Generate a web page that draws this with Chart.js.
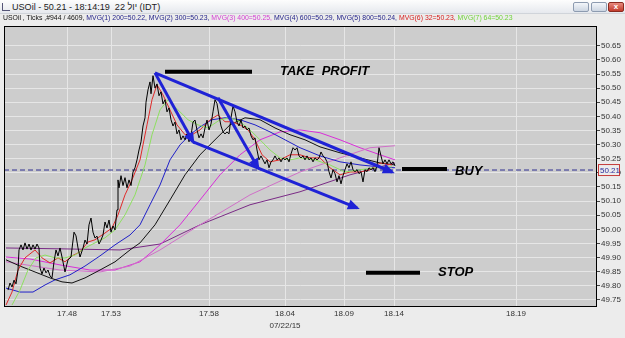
<!DOCTYPE html>
<html><head><meta charset="utf-8">
<script src="https://cdn.jsdelivr.net/npm/chart.js@4.4.0/dist/chart.umd.min.js"></script>
<style>
body{margin:0;width:625px;height:338px;overflow:hidden;background:#ececec;position:relative;font-family:'Liberation Sans',Arial,sans-serif}
#c{position:absolute;left:0;top:0}
#title{position:absolute;left:0;top:0;width:625px;height:13px;background:linear-gradient(#fdfdfd,#e6e9ee);border-bottom:1px solid #d0d4da}
#ttxt{position:absolute;left:12px;top:0;font-size:9.5px;line-height:13px;color:#1c1c1c;white-space:nowrap;transform-origin:0 50%}
#icon{position:absolute;left:2px;top:3px;width:7px;height:7px;border-left:1px solid #557;border-bottom:1px solid #557}
.btn{position:absolute;top:2px;height:10px;border:1px solid #8d9bb0;border-radius:2px;background:linear-gradient(#f3f6fa,#cdd6e2);box-sizing:border-box}
#bclose{background:linear-gradient(#e88a7e,#c33b2c);border-color:#8a2a20;color:#fff;font-size:8px;line-height:8px;text-align:center;font-weight:bold}
#info{position:absolute;left:3px;top:13px;font-size:6.6px;line-height:10px;white-space:nowrap;color:#111;transform-origin:0 50%}
.nv{color:#23238a}.mg{color:#d23cd2}.rd{color:#d62020}.gr{color:#6fd23a}
</style></head>
<body>
<canvas id="c" width="625" height="338"></canvas>
<div id="title"><div id="icon"></div><div id="ttxt">USOil - 50.21 - 18:14:19 &nbsp;22 יול (IDT)</div>
<div class="btn" style="left:573px;width:16px"></div><div class="btn" style="left:591px;width:16px"></div><div class="btn" id="bclose" style="left:608px;width:16px">x</div></div>
<div id="info">USOil , Ticks ,#944 / 4609, <span class="nv">MVG(1) 200=50.22, MVG(2) 300=50.23,</span> <span class="mg">MVG(3) 400=50.25,</span> <span class="nv">MVG(4) 600=50.29, MVG(5) 800=50.24,</span> <span class="rd">MVG(6) 32=50.23,</span> <span class="gr">MVG(7) 64=50.23</span></div>
<script>
// ---- DATA ----
const xTickPositions = [63, 107, 205, 281, 340, 390, 512];
const xTickLabels = ['17.48', '17.53', '17.58', '18.04', '18.09', '18.14', '18.19'];
const dateLabel = '07/22/15';
const dateUnder = '18.04';
const yTickValues = [49.75,49.80,49.85,49.90,49.95,50.00,50.05,50.10,50.15,50.20,50.25,50.30,50.35,50.40,50.45,50.50,50.55,50.60,50.65];
const lastPrice = 50.21;

const price = [[4,49.785],[6,49.81],[8,49.796],[10,49.82],[12,49.807],[14,49.856],[15,49.927],[17,49.945],[19,49.927],[21,49.952],[23,49.93],[25,49.948],[27,49.927],[29,49.945],[31,49.93],[33,49.948],[35,49.934],[36,49.863],[38,49.842],[40,49.863],[42,49.846],[44,49.856],[46,49.835],[48,49.828],[50,49.885],[52,49.927],[54,49.906],[56,49.934],[58,49.902],[61,49.849],[64,49.892],[67,49.902],[70,49.99],[72,49.977],[74,49.934],[76,49.902],[79,49.934],[81,49.962],[83,49.948],[85,50.016],[87,50.04],[89,49.99],[91,49.969],[93,49.976],[95,49.948],[97,49.962],[99,49.98],[101,50.026],[103,50.005],[105,50.033],[107,49.99],[109,50.012],[111,49.998],[113,50.069],[114,50.175],[115,50.147],[117,50.19],[119,50.155],[121,50.183],[123,50.147],[125,50.175],[127,50.155],[129,50.203],[131,50.218],[133,50.246],[135,50.281],[137,50.31],[139,50.366],[141,50.395],[142,50.45],[144,50.494],[146,50.522],[147,50.48],[149,50.544],[151,50.5],[153,50.515],[155,50.473],[157,50.487],[159,50.444],[161,50.459],[163,50.416],[165,50.43],[167,50.388],[169,50.366],[171,50.38],[173,50.338],[175,50.352],[177,50.317],[179,50.331],[181,50.317],[183,50.338],[185,50.31],[187,50.331],[189,50.38],[191,50.387],[193,50.352],[195,50.324],[197,50.338],[199,50.324],[201,50.359],[203,50.387],[205,50.352],[207,50.373],[209,50.416],[211,50.459],[213,50.445],[215,50.402],[217,50.366],[219,50.345],[221,50.338],[223,50.345],[225,50.338],[227,50.395],[229,50.437],[231,50.416],[233,50.38],[235,50.366],[237,50.387],[239,50.359],[241,50.366],[243,50.352],[245,50.359],[247,50.331],[249,50.317],[251,50.324],[253,50.281],[255,50.246],[257,50.26],[259,50.246],[261,50.232],[263,50.246],[265,50.218],[267,50.239],[269,50.246],[271,50.26],[273,50.246],[275,50.253],[277,50.239],[279,50.253],[281,50.246],[283,50.253],[285,50.239],[287,50.267],[289,50.289],[291,50.281],[293,50.289],[295,50.26],[297,50.253],[299,50.26],[301,50.246],[303,50.26],[305,50.246],[307,50.253],[309,50.239],[311,50.253],[313,50.246],[315,50.253],[317,50.274],[319,50.26],[321,50.253],[323,50.239],[325,50.204],[327,50.182],[329,50.211],[331,50.197],[333,50.168],[335,50.19],[337,50.161],[339,50.19],[341,50.211],[343,50.232],[345,50.218],[347,50.239],[349,50.211],[351,50.204],[353,50.211],[355,50.197],[357,50.204],[359,50.168],[361,50.211],[363,50.204],[365,50.218],[367,50.211],[369,50.218],[371,50.204],[373,50.225],[375,50.289],[377,50.26],[379,50.232],[381,50.246],[383,50.232],[385,50.246],[387,50.232],[389,50.239],[391,50.225]];

const ma32 = [[2,49.732],[8,49.778],[14,49.856],[21,49.899],[31,49.927],[38,49.899],[46,49.881],[54,49.899],[61,49.885],[68,49.906],[76,49.92],[84,49.955],[91,49.963],[101,49.987],[108,50.005],[114,50.051],[121,50.122],[128,50.175],[136,50.246],[143,50.37],[148,50.459],[153,50.512],[159,50.476],[166,50.423],[173,50.37],[181,50.335],[188,50.335],[196,50.352],[206,50.388],[214,50.405],[221,50.381],[228,50.381],[236,50.37],[244,50.352],[251,50.317],[258,50.264],[266,50.239],[276,50.246],[286,50.264],[296,50.264],[306,50.253],[316,50.253],[326,50.218],[336,50.193],[346,50.203],[356,50.203],[366,50.211],[376,50.235],[388,50.228]];
const ma64 = [[8,49.732],[16,49.785],[24,49.856],[32,49.899],[41,49.909],[51,49.899],[61,49.899],[71,49.909],[81,49.934],[91,49.952],[101,49.97],[111,49.998],[121,50.051],[131,50.122],[141,50.228],[148,50.335],[156,50.423],[164,50.459],[174,50.423],[184,50.388],[194,50.37],[204,50.359],[216,50.388],[226,50.395],[236,50.381],[246,50.352],[256,50.317],[266,50.281],[276,50.253],[286,50.246],[296,50.253],[311,50.246],[326,50.228],[341,50.203],[356,50.211],[371,50.218],[388,50.221]];
const ma200 = [[2,49.792],[16,49.778],[29,49.778],[41,49.803],[51,49.821],[66,49.839],[81,49.87],[96,49.906],[111,49.945],[126,49.98],[136,50.016],[146,50.087],[156,50.157],[166,50.246],[176,50.299],[186,50.335],[196,50.363],[208,50.388],[221,50.395],[236,50.388],[251,50.37],[266,50.345],[281,50.317],[296,50.289],[316,50.26],[336,50.239],[356,50.228],[376,50.221],[391,50.218]];
const ma300 = [[2,49.892],[16,49.87],[31,49.849],[46,49.828],[58,49.814],[68,49.81],[81,49.828],[96,49.856],[111,49.885],[126,49.927],[136,49.952],[151,50.016],[166,50.104],[181,50.193],[196,50.264],[211,50.317],[226,50.37],[241,50.395],[256,50.388],[271,50.359],[286,50.335],[301,50.317],[316,50.292],[336,50.271],[356,50.253],[376,50.235],[391,50.228]];
const ma400 = [[2,49.902],[26,49.895],[56,49.874],[86,49.856],[111,49.856],[136,49.885],[156,49.945],[176,50.016],[196,50.104],[216,50.193],[236,50.264],[256,50.317],[276,50.345],[296,50.352],[316,50.342],[336,50.317],[356,50.289],[376,50.264],[391,50.246]];
const ma600 = [[2,49.885],[56,49.856],[96,49.849],[126,49.87],[156,49.927],[196,50.016],[246,50.122],[296,50.203],[336,50.253],[366,50.289],[391,50.296]];
const ma800 = [[2,49.934],[56,49.931],[116,49.927],[156,49.948],[196,50.016],[246,50.087],[296,50.133],[346,50.193],[391,50.235]];

const arrowPeakToSupport = [[151,50.554],[189,50.310]];
const arrowLowerChannel = [[189,50.310],[353,50.076]];
const arrowSecondDrop = [[214,50.466],[254,50.218]];
const arrowUpperChannel = [[151,50.554],[388,50.203]];
const takeProfitLine = [[161,50.558],[248,50.558]];
const buyLine = [[398,50.214],[443,50.214]];
const stopLine = [[362,49.846],[416,49.846]];
const noteTexts = ['TAKE  PROFIT', 'BUY', 'STOP'];
const noteAnchors = [[276,50.558],[451,50.205],[434,49.846]];

// ---- CHART ----
const pts = a => a.map(p => ({x:p[0], y:p[1]}));
const ln = (data, color, width, order, extra) => Object.assign({data: pts(data), borderColor: color, borderWidth: width, pointRadius: 0, tension: 0, fill: false, order}, extra || {});

const bgPlugin = {
  id: 'bg',
  beforeDraw(chart) {
    const {ctx, chartArea: a} = chart;
    ctx.save(); ctx.fillStyle = '#cdcdcd'; ctx.fillRect(a.left, a.top, a.right - a.left, a.bottom - a.top); ctx.restore();
  },
  afterDraw(chart) {
    const {ctx, chartArea: a, scales} = chart;
    ctx.save();
    ctx.strokeStyle = '#000'; ctx.lineWidth = 1;
    ctx.strokeRect(a.left + 0.5, a.top + 0.5, a.right - a.left - 1, a.bottom - a.top - 1);
    const y = scales.y.getPixelForValue(lastPrice);
    ctx.fillStyle = '#ececec'; ctx.fillRect(a.right + 1, y - 6, 22, 12);
    ctx.strokeStyle = '#c43c3c'; ctx.strokeRect(a.right + 1.5, y - 5.5, 21, 11);
    ctx.fillStyle = '#2a2a9a'; ctx.font = '8px "Liberation Sans"'; ctx.textBaseline = 'middle'; ctx.textAlign = 'left';
    ctx.fillText(lastPrice.toFixed(2), a.right + 3, y + 0.5);
    ctx.restore();
  },
  afterDatasetsDraw(chart) {
    const {ctx, scales} = chart;
    ctx.save();
    chart.data.datasets.forEach((ds, i) => {
      if (!ds.arrow) return;
      const d = chart.getDatasetMeta(i).data; const p1 = d[d.length - 2], p2 = d[d.length - 1];
      const ang = Math.atan2(p2.y - p1.y, p2.x - p1.x);
      ctx.fillStyle = ds.borderColor;
      ctx.beginPath();
      ctx.moveTo(p2.x + 3 * Math.cos(ang), p2.y + 3 * Math.sin(ang));
      ctx.lineTo(p2.x - 9 * Math.cos(ang) - 5 * Math.sin(ang), p2.y - 9 * Math.sin(ang) + 5 * Math.cos(ang));
      ctx.lineTo(p2.x - 9 * Math.cos(ang) + 5 * Math.sin(ang), p2.y - 9 * Math.sin(ang) - 5 * Math.cos(ang));
      ctx.closePath(); ctx.fill();
    });
    ctx.fillStyle = '#000'; ctx.font = 'italic bold 13px "Liberation Sans"'; ctx.textBaseline = 'middle'; ctx.textAlign = 'left';
    noteTexts.forEach((t, i) => ctx.fillText(t, scales.x.getPixelForValue(noteAnchors[i][0]), scales.y.getPixelForValue(noteAnchors[i][1])));
    ctx.restore();
  }
};

const blue = '#1f22d6';
new Chart(document.getElementById('c'), {
  type: 'line',
  data: { datasets: [
    ln([[0,lastPrice],[593,lastPrice]], '#2d2d8f', 1, 9, {borderDash:[5,3]}),
    ln(ma800, '#7a2a86', 1, 8),
    ln(ma600, '#d070c8', 1, 7),
    ln(ma400, '#d92fd9', 1, 7),
    ln(ma300, '#111111', 1, 6),
    ln(ma200, '#2020c8', 1, 6),
    ln(ma64, '#8ee060', 1, 5),
    ln(ma32, '#e02a2a', 1, 5),
    ln(price, '#000000', 1, 4),
    ln(arrowPeakToSupport, blue, 3, 1, {arrow:true}),
    ln(arrowLowerChannel, blue, 3, 1, {arrow:true}),
    ln(arrowSecondDrop, blue, 3, 1, {arrow:true}),
    ln(arrowUpperChannel, blue, 3, 1, {arrow:true}),
    ln(takeProfitLine, '#000', 4, 0, {borderCapStyle:'butt'}),
    ln(buyLine, '#000', 4, 0, {borderCapStyle:'butt'}),
    ln(stopLine, '#000', 4, 0, {borderCapStyle:'butt'})
  ]},
  options: {
    responsive: false, animation: false, parsing: true,
    layout: { padding: { top: 26, left: 4, right: 0, bottom: 0 } },
    plugins: { legend: { display: false }, tooltip: { enabled: false } },
    scales: {
      x: {
        type: 'linear', min: 0, max: 593, position: 'bottom',
        afterFit(s) { s.height = 31; },
        afterBuildTicks(s) { s.ticks = xTickPositions.map(v => ({value: v})); },
        grid: { color: '#e6e6e6', drawTicks: false },
        border: { display: false },
        ticks: { autoSkip: false, maxRotation: 0, padding: 0, color: '#333', font: { size: 8, family: 'Liberation Sans', lineHeight: 1.6 },
          callback(v) { const i = xTickPositions.indexOf(v); const l = xTickLabels[i]; return l === dateUnder ? [l, dateLabel] : l; } }
      },
      y: {
        type: 'linear', min: 49.725, max: 50.72, position: 'right',
        afterFit(s) { s.width = 28; },
        afterBuildTicks(s) { s.ticks = yTickValues.map(v => ({value: v})); },
        grid: { color: '#e6e6e6', drawTicks: true, tickLength: 3, tickColor: '#444' },
        border: { display: false },
        ticks: { autoSkip: false, padding: 1, color: '#333', font: { size: 8, family: 'Liberation Sans' }, callback: v => v.toFixed(2) }
      }
    }
  },
  plugins: [bgPlugin]
});

function fit(id, w) { const e = document.getElementById(id); e.style.transform = 'scaleX(' + (w / e.scrollWidth) + ')'; }
fit('info', 510); fit('ttxt', 148);
</script>
</body></html>
